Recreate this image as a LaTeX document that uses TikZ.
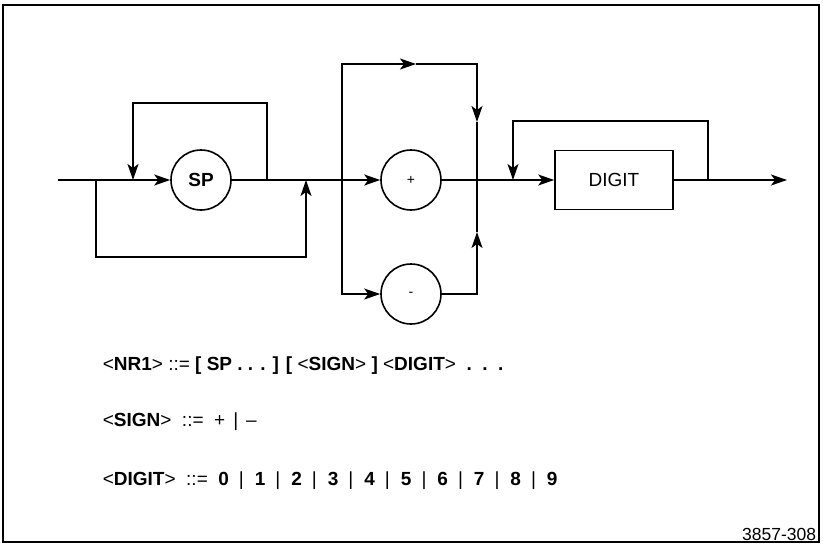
\documentclass[tikz,border=0pt]{standalone}
\usepackage{fontspec}
\setmainfont{Liberation Sans}
\usetikzlibrary{arrows.meta,positioning}
\newcommand\ang[1]{{\mdseries\textless}#1{\mdseries\textgreater}}
\newcommand\altbar{\hspace{8pt}{\mdseries\textbar}\hspace{8pt}}
\newcommand\digbar{\hspace{10pt}{\mdseries\textbar}\hspace{11pt}}

\begin{document}
\begin{tikzpicture}[x=1pt,y=-1pt,
 line width=1.6pt,
 ring/.style={draw,circle,minimum size=60pt,inner sep=0pt,font=\fontsize{14}{16}\selectfont},
 termbox/.style={draw,rectangle,minimum width=118pt,minimum height=59pt,inner sep=0pt,font=\fontsize{19}{21}\selectfont},
 gram/.style={anchor=west,inner sep=0pt,font=\fontsize{19}{21}\selectfont\bfseries},
 arrow/.style={-{Stealth[length=16pt,width=11pt,inset=4pt]}}]
 \useasboundingbox (0,0) rectangle (823,544);
 \draw[line width=1.8pt] (3,5) rectangle (819,542);
 \node[ring,font=\fontsize{19}{21}\selectfont\bfseries] (sp) at (201,180) {SP};
 \node[ring] (plus) at (411,180) {+};
 \node[ring] (minus) at (411,294) {-};
 \node[termbox] (digit) at (614,180) {DIGIT};
 \coordinate (start) at (58,180);
 \coordinate (skip) at (96,180);
 \coordinate (back) at (133,180);
 \coordinate (again) at (267,180);
 \coordinate (merge) at (306,180);
 \coordinate (fork) at (342,180);
 \coordinate (join) at (477,180);
 \coordinate (loop) at (513,180);
 \coordinate (rept) at (708,180);
 \coordinate (stop) at (787,180);
 \coordinate (toparr) at (416,64);
 \coordinate (downarr) at (477,122);
 \coordinate (uparr) at (477,232);
 \draw (start)--(back);
 \draw[arrow] (back)--(sp);
 \draw[arrow] (again)--++(0,-77)-|(back);
 \draw[arrow] (skip)--++(0,77)-|(merge);
 \draw (sp)--(fork);
 \draw[arrow] (fork)--(plus);
 \draw[arrow] (fork)|-(toparr);
 \draw[arrow] (toparr)-|(downarr);
 \draw (downarr)--(join);
 \draw[arrow] (fork)|-(minus);
 \draw[arrow] (minus)-|(uparr);
 \draw (uparr)--(join);
 \draw (plus)--(loop);
 \draw[arrow] (loop)--(digit);
 \draw[arrow] (rept)--++(0,-59)-|(loop);
 \draw[arrow] (digit)--(stop);
 \node[gram] (nr) at (102,366) {\ang{NR1} {\mdseries::=} [ SP . . . ] [ \ang{SIGN} ] \ang{DIGIT}\ \ .\ \ .\ \ .};
 \node[gram] (sign) at (102,422) {\ang{SIGN}\ \ {\mdseries ::=\ \ +\altbar–}};
 \node[gram] (digits) at (102,481) {\ang{DIGIT}\ \ {\mdseries ::=}\ \ 0\digbar 1\digbar 2\digbar 3\digbar 4\digbar 5\digbar 6\digbar 7\digbar 8\digbar 9};
 \node[anchor=base east,inner sep=0pt,font=\fontsize{17.5}{19}\selectfont] (fig) at (817,540) {3857-308};
\end{tikzpicture}
\end{document}
